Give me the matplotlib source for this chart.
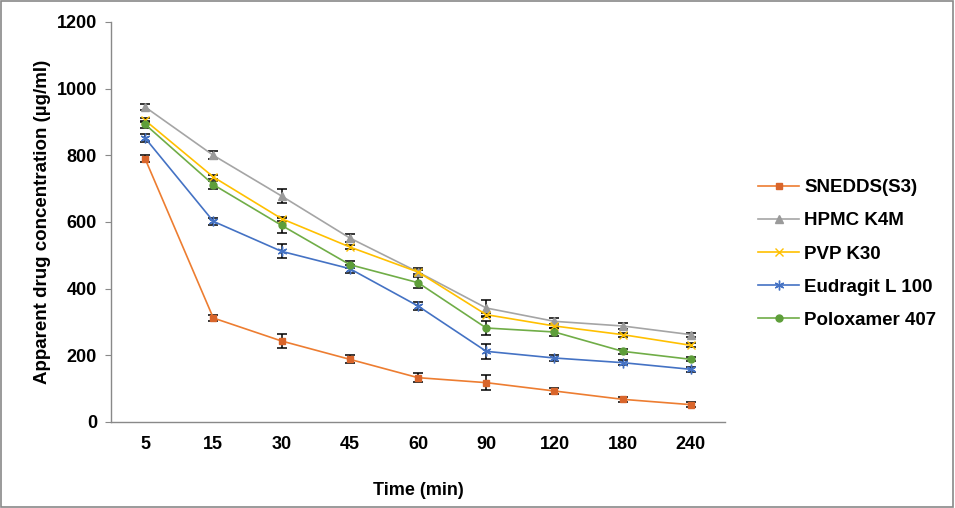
import numpy as np
import matplotlib.pyplot as plt
from matplotlib.patches import Rectangle

plt.rcParams['font.family'] = ['Liberation Sans', 'DejaVu Sans']

# Data
times = ['5', '15', '30', '45', '60', '90', '120', '180', '240']

snedds = [790, 312, 243, 188, 133, 118, 93, 68, 52]
snedds_err = [10, 10, 20, 12, 13, 23, 10, 8, 8]

hpmc = [945, 800, 678, 552, 450, 342, 302, 288, 262]
hpmc_err = [10, 12, 21, 12, 12, 24, 10, 8, 6]

pvp = [905, 735, 610, 525, 450, 322, 288, 262, 230]
pvp_err = [6, 6, 6, 6, 6, 6, 6, 6, 6]

eudragit = [852, 602, 512, 460, 348, 212, 192, 178, 158]
eudragit_err = [12, 10, 21, 12, 13, 22, 8, 8, 8]

poloxamer = [893, 712, 590, 472, 418, 282, 270, 212, 188]
poloxamer_err = [10, 12, 23, 10, 17, 22, 12, 8, 6]

series = [
    ('SNEDDS(S3)', snedds, snedds_err, '#ED7D31', '#D9652B', 's', 5),
    ('HPMC K4M', hpmc, hpmc_err, '#A5A5A5', '#9A9A9A', '^', 6),
    ('PVP K30', pvp, pvp_err, '#FFC000', '#FFC000', 'x', 6),
    ('Eudragit L 100', eudragit, eudragit_err, '#4472C4', '#4472C4', (6, 2, 0), 7),
    ('Poloxamer 407', poloxamer, poloxamer_err, '#70AD47', '#5E9E3A', 'o', 5),
]

fig = plt.figure(figsize=(9.55, 5.08), dpi=100)
ax = fig.add_axes([0.1162, 0.1693, 0.643, 0.7874])

x = np.arange(len(times))
for name, vals, err, col, mcol, mk, ms in series:
    ax.errorbar(x, vals, yerr=err, fmt='none', ecolor='black', elinewidth=1.1,
                capsize=3.5, capthick=1.1, zorder=2)
    ax.plot(x, vals, color=col, linewidth=1.2, marker=mk, markersize=ms,
            markerfacecolor=mcol, markeredgecolor=mcol, markeredgewidth=1.0,
            label=name, zorder=3)

ax.set_xlim(-0.5, len(times) - 0.5)
ax.set_ylim(0, 1200)
ax.set_yticks(range(0, 1201, 200))
ax.set_xticks(x)
ax.set_xticklabels(times)

for s in ['top', 'right']:
    ax.spines[s].set_visible(False)
for s in ['left', 'bottom']:
    ax.spines[s].set_color('#898989')
    ax.spines[s].set_linewidth(1.0)

ax.tick_params(axis='y', direction='out', length=4, color='#898989', pad=6,
               labelsize=13)
ax.tick_params(axis='x', length=0, pad=10, labelsize=13)
for lbl in ax.get_xticklabels() + ax.get_yticklabels():
    lbl.set_fontweight('bold')

ax.set_xlabel('Time (min)', fontsize=13, fontweight='bold', labelpad=21)
ax.set_ylabel('Apparent drug concentration (µg/ml)', fontsize=13.5,
              fontweight='bold', labelpad=4)

leg = ax.legend(loc='center left', bbox_to_anchor=(1.027, 0.42), frameon=False,
                prop={'weight': 'bold', 'size': 13.5}, handlelength=2.15,
                labelspacing=0.85, handletextpad=0.28)

# outer border
fig.patches.append(Rectangle((0.001, 0.002), 0.997, 0.996, transform=fig.transFigure,
                             fill=False, edgecolor='#898989', linewidth=1.2))

fig.savefig('out.png', dpi=100)
